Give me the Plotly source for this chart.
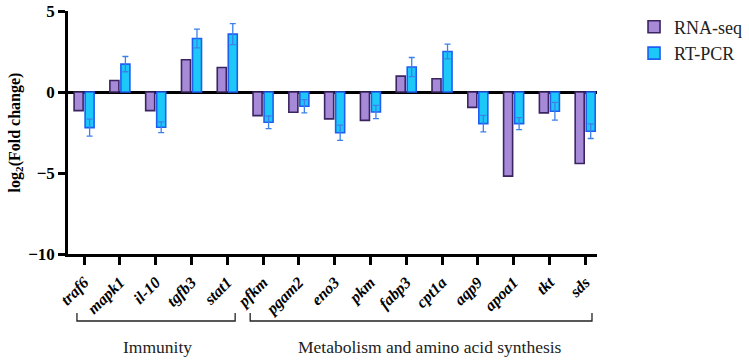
import plotly.graph_objects as go

genes = ["traf6", "mapk1", "il-10", "tgfb3", "stat1", "pfkm", "pgam2", "eno3",
         "pkm", "fabp3", "cpt1a", "aqp9", "apoa1", "tkt", "sds"]
rna_seq = [-1.15, 0.71, -1.15, 1.99, 1.51, -1.46, -1.25, -1.66,
           -1.75, 0.98, 0.82, -0.95, -5.19, -1.29, -4.41]
rt_pcr = [-2.2, 1.72, -2.18, 3.3, 3.57, -1.87, -0.88, -2.52,
          -1.23, 1.54, 2.5, -1.95, -1.95, -1.19, -2.42]
rt_pcr_err = [0.52, 0.47, 0.33, 0.58, 0.65, 0.39, 0.41, 0.47,
              0.41, 0.59, 0.45, 0.51, 0.37, 0.55, 0.45]
y_ticks = [-10, -5, 0, 5]
groups = [("Immunity", 0, 4), ("Metabolism and amino acid synthesis", 5, 14)]

SERIF = "Liberation Serif"

fig = go.Figure()
fig.add_trace(go.Bar(
    x=genes, y=rna_seq, name="RNA-seq",
    marker=dict(color="#A68AD8", line=dict(color="#3B2560", width=1.6)),
))
fig.add_trace(go.Bar(
    x=genes, y=rt_pcr, name="RT-PCR",
    marker=dict(color="#1CC8F8", line=dict(color="#1F5EF2", width=1.6)),
    error_y=dict(type="data", array=rt_pcr_err, visible=True,
                 color="#3D80EA", thickness=1.3, width=3),
))

shapes = []
for label, i0, i1 in groups:
    x0 = i0 - 0.2 if i0 == 0 else i0 - 0.36
    x1 = i1 + 0.22 if i1 == 4 else i1 + 0.19
    shapes.append(dict(type="path", xref="x", yref="paper",
                       path=f"M {x0},-0.243 L {x0},-0.2757 L {x1},-0.2757 L {x1},-0.243",
                       line=dict(color="#222", width=1.3)))

annotations = []
for label, i0, i1 in groups:
    annotations.append(dict(text=label, x=(i0 + i1) / 2 + (0.04 if i0 == 0 else 0.17),
                            y=-0.383, xref="x", yref="paper", showarrow=False,
                            xanchor="center", yanchor="middle",
                            font=dict(family=SERIF, size=17.5, color="#222")))

fig.update_layout(
    width=749, height=364,
    margin=dict(l=68, r=152, t=11, b=110, autoexpand=False),
    paper_bgcolor="white", plot_bgcolor="white",
    barmode="group", bargap=0.385, bargroupgap=0.18,
    font=dict(family=SERIF, color="black"),
    legend=dict(x=1.07, y=1.01, xanchor="left", yanchor="top",
                font=dict(family=SERIF, size=18, color="#222"),
                traceorder="normal"),
    shapes=shapes, annotations=annotations,
)
fig.update_xaxes(
    range=[-0.45, 14.33], showline=True, linecolor="black", linewidth=2.5,
    ticks="outside", ticklen=8, tickwidth=2.5, tickcolor="black",
    tickangle=-45, showgrid=False, zeroline=False, automargin=False,
    ticklabelstandoff=2,
    tickfont=dict(family=SERIF, size=16, weight="bold", style="italic", color="black"),
)
fig.update_yaxes(
    range=[-10, 5], tickvals=y_ticks, ticktext=["\u221210", "\u22125", "0", "5"],
    showline=True, linecolor="black", linewidth=2.5,
    ticks="outside", ticklen=7, tickwidth=2.5, tickcolor="black",
    showgrid=False, zeroline=True, zerolinecolor="black", zerolinewidth=2.5,
    automargin=False,
    tickfont=dict(family=SERIF, size=17, weight="bold", color="black"),
    title=dict(text="log<sub>2</sub>(Fold change)", standoff=4,
               font=dict(family=SERIF, size=16, weight="bold", color="black")),
)

fig.write_html("out.html")
